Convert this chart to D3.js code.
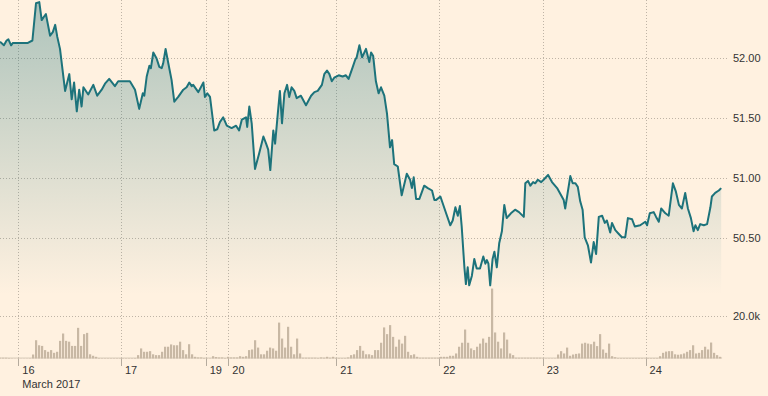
<!DOCTYPE html>
<html>
<head>
<meta charset="utf-8">
<script src="https://cdn.jsdelivr.net/npm/d3@7"></script>
<style>
  body { margin: 0; background: #fff1e0; }
  svg { display: block; font-family: "Liberation Sans", Arial, sans-serif; }
</style>
</head>
<body>
<svg id="chart" width="768" height="396"></svg>
<script>
// trading slots along the x axis (non-trading time is squeezed out)
var dayTicks = [6.1, 40.33, 68.55, 76.1, 112.1, 146.4, 180.9, 215.2];
var dayLabels = ["16", "17", "19", "20", "21", "22", "23", "24"];
var monthLabel = "March 2017";

var priceTicks = [52.0, 51.5, 51.0, 50.5];
var volumeTicks = [20];

var priceTimes = [0,1.3,2.2,2.8,3.7,4.3,5.6,6.7,8.3,9.3,10.8,12,13.1,13.9,14.7,15.3,16.7,17.6,18.4,19.1,
  20,21.7,23.1,23.9,24.7,25.6,26.4,27.2,27.8,29.4,31.1,32.4,33.9,35,36.4,38.3,39.4,41.7,43.3,45,
  46.4,47.6,48.1,48.9,49.8,50.3,51.1,52.2,53.1,53.9,54.4,55.2,56.1,57.2,58.1,59.4,61.1,62.2,63.1,63.9,
  64.4,66.1,67.8,68.3,69.1,70,71.4,72.4,73.3,74.4,75.6,77.2,78.7,79.7,80.6,82,82.4,83.1,83.9,85,
  86.4,87.8,88.7,89.4,90.1,91.1,91.7,92.6,93.3,94,94.8,95.7,96.4,97.2,98.1,98.9,100.3,102,103.7,104.8,
  105.9,107.3,108.1,109,109.8,110.6,111.4,112.9,114.2,115.3,116.2,117.6,118.4,118.9,119.8,120.7,122,123.1,123.7,124.4,
  125.3,126.2,127,128.1,129,130,130.7,131.4,132.6,133.9,135.6,136.7,137.3,137.9,138.7,139.8,141.4,142.6,144,144.8,
  145.3,146.8,148.7,150.1,150.9,151.8,152.6,153.3,153.9,154.8,155.3,155.9,156.4,157.3,158.1,158.9,160,161.1,161.8,162.3,
  162.8,163.4,164.2,164.8,165.6,166.4,167.3,168.1,168.9,170.3,171.7,173,174.6,175.1,176,176.8,177.7,178.4,179.3,180.4,
  181.2,182.7,184,185.7,186.8,187.9,188.4,190.1,190.9,191.8,192.6,193.4,194.2,194.9,196,197,197.9,198.7,199.6,200.7,
  201.6,202.3,203.4,204,205.1,206.2,207.3,208.4,209.3,210.7,211.6,213.4,215.1,215.7,216.6,217.9,218.7,219.6,220.4,221.8,
  222.9,224.3,225.3,226.3,227.3,228.4,229.3,230.3,231.2,231.8,232.6,233.4,234.6,235.7,236.8,237.3,238.4,239.6,240.4];

var prices = [52.14,52.11,52.15,52.16,52.11,52.13,52.13,52.13,52.13,52.13,52.15,52.46,52.47,52.32,52.35,52.37,52.19,52.22,52.28,52.18,
  52.08,51.73,51.87,51.66,51.80,51.56,51.74,51.60,51.76,51.70,51.78,51.69,51.74,51.79,51.83,51.77,51.81,51.81,51.81,51.74,
  51.58,51.71,51.69,51.85,51.94,51.92,52.05,52.00,51.93,51.92,51.96,52.08,51.96,51.82,51.64,51.68,51.74,51.76,51.80,51.77,
  51.78,51.72,51.80,51.68,51.71,51.68,51.40,51.41,51.47,51.51,51.44,51.42,51.44,51.40,51.49,51.51,51.43,51.60,51.46,51.08,
  51.21,51.35,51.29,51.24,51.07,51.40,51.29,51.54,51.73,51.46,51.71,51.78,51.68,51.76,51.73,51.67,51.69,51.61,51.69,51.72,
  51.73,51.78,51.87,51.90,51.87,51.81,51.84,51.86,51.85,51.86,51.83,51.93,51.99,52.01,52.11,52.01,52.08,51.97,52.05,52.02,
  51.81,51.71,51.76,51.69,51.54,51.26,51.32,51.12,51.10,50.86,51.04,50.99,50.92,51.01,50.83,50.83,50.94,50.92,50.90,50.82,
  50.82,50.85,50.71,50.61,50.65,50.76,50.69,50.77,50.60,50.26,50.12,50.26,50.11,50.19,50.33,50.25,50.25,50.35,50.29,50.32,
  50.29,50.11,50.33,50.39,50.26,50.46,50.56,50.78,50.67,50.71,50.74,50.72,50.68,50.96,50.98,50.94,50.97,50.96,50.99,50.97,
  50.99,51.03,50.97,50.92,50.87,50.82,50.75,51.02,50.96,50.96,50.93,50.81,50.74,50.51,50.44,50.30,50.47,50.37,50.68,50.69,
  50.63,50.65,50.55,50.63,50.57,50.54,50.51,50.51,50.67,50.66,50.60,50.61,50.64,50.61,50.71,50.72,50.68,50.64,50.75,50.71,
  50.69,50.96,50.89,50.78,50.75,50.88,50.75,50.67,50.56,50.61,50.57,50.62,50.61,50.62,50.76,50.85,50.88,50.90,50.92];

// volume in thousands, one bar per slot starting at slot 0
var volumes = [0.35,0.35,0.35,0.25,0.15,0.1,0.1,0.1,0.1,0.1,
  0.15,1.9,8.7,6.3,6.0,4.0,3.2,4.0,2.7,3.2,
  8.4,11.9,8.4,8.0,6.0,6.0,14.6,6.0,11.6,12.2,
  2.0,1.3,0.8,0.25,0.2,0.2,0.2,0.2,0.2,0.2,
  0.2,0.2,0.2,0.2,0.2,0.25,1.6,4.8,3.2,3.2,
  3.5,2.0,1.6,1.6,3.2,5.6,5.6,6.7,6.3,6.3,
  8.0,4.0,2.0,6.8,2.0,0.8,0.5,0.5,0.25,0.15,
  0.15,1.1,0.7,0.5,0.5,0.25,0.8,0.5,0.5,0.5,
  1.1,0.8,1.1,4.0,4.3,8.7,5.2,2.0,2.0,3.7,
  5.2,4.8,3.7,17.1,9.5,5.2,15.1,5.6,2.0,9.5,
  2.4,0.35,0.35,0.35,0.35,0.35,0.25,0.5,0.35,0.8,
  0.35,0.8,0.25,0.25,0.25,0.25,0.5,1.6,2.0,4.0,
  6.0,3.7,2.0,2.0,1.6,4.0,4.0,7.5,14.8,11.6,
  15.9,10.3,5.6,9.0,7.1,10.8,3.2,1.6,2.0,0.8,
  0.35,0.35,0.35,0.35,0.35,0.35,0.35,0.8,0.8,0.8,
  1.3,1.3,2.4,5.6,7.5,13.8,7.5,4.8,4.0,5.6,
  7.1,9.5,7.5,10.3,33.3,12.4,8.0,4.8,12.4,9.0,
  2.4,1.6,0.35,0.35,0.35,0.35,0.35,0.35,0.35,0.35,
  0.35,0.15,0.15,0.15,0.15,0.15,1.9,3.5,2.4,5.2,
  1.3,1.9,2.2,2.4,7.1,7.5,7.1,6.8,8.0,5.9,
  11.6,4.3,2.7,7.1,1.1,0.6,0.25,0.25,0.25,0.25,
  0.25,0.25,0.25,0.25,0.25,0.15,0.25,0.25,0.25,0.25,
  1.1,2.7,3.3,3.5,3.5,2.0,1.8,2.0,2.4,3.2,
  4.0,6.3,2.4,2.7,4.0,5.6,4.3,7.6,2.7,1.6,
  0.8];

var svg = d3.select("#chart");

var x = d3.scaleLinear().domain([0, 243]).range([0, 729]);
var yPrice = d3.scaleLinear().domain([50.5, 52]).range([238.5, 58.5]);
var yVol = d3.scaleLinear().domain([0, 20]).range([358.5, 316.5]);

var priceData = priceTimes.map(function(t, i){ return {t: t, p: prices[i]}; });

// gradient under the price line
var grad = svg.append("defs").append("linearGradient")
  .attr("id", "fade")
  .attr("gradientUnits", "userSpaceOnUse")
  .attr("x1", 0).attr("y1", 0).attr("x2", 0).attr("y2", 295);
grad.append("stop").attr("offset", "0%").attr("stop-color", "#1d737b").attr("stop-opacity", 0.36);
grad.append("stop").attr("offset", "100%").attr("stop-color", "#1d737b").attr("stop-opacity", 0);

// horizontal grid
var hLines = priceTicks.map(yPrice).concat(volumeTicks.map(yVol));
svg.append("g").selectAll("line").data(hLines).enter().append("line")
  .attr("x1", 0).attr("x2", 729)
  .attr("y1", function(d){ return d; }).attr("y2", function(d){ return d; })
  .attr("stroke", "#bfb4a6").attr("stroke-dasharray", "1,2");

// vertical grid + day ticks
var vg = svg.append("g");
vg.selectAll("line.grid").data(dayTicks).enter().append("line")
  .attr("class", "grid")
  .attr("x1", function(d){ return Math.round(x(d)) + 0.5; })
  .attr("x2", function(d){ return Math.round(x(d)) + 0.5; })
  .attr("y1", 0).attr("y2", 358)
  .attr("stroke", "#bfb4a6").attr("stroke-dasharray", "1,2");
vg.selectAll("line.tick").data(dayTicks).enter().append("line")
  .attr("class", "tick")
  .attr("x1", function(d){ return Math.round(x(d)) + 0.5; })
  .attr("x2", function(d){ return Math.round(x(d)) + 0.5; })
  .attr("y1", 358).attr("y2", 366)
  .attr("stroke", "#b5ab9e");

// area + line
var area = d3.area()
  .x(function(d){ return x(d.t); })
  .y0(yPrice(50.0))
  .y1(function(d){ return yPrice(d.p); });
svg.append("path").datum(priceData)
  .attr("d", area)
  .attr("fill", "url(#fade)");

var line = d3.line()
  .x(function(d){ return x(d.t); })
  .y(function(d){ return yPrice(d.p); });
svg.append("path").datum(priceData)
  .attr("d", line)
  .attr("fill", "none")
  .attr("stroke", "#1d737b")
  .attr("stroke-width", 2)
  .attr("stroke-linejoin", "round");

// volume bars
svg.append("line")
  .attr("x1", 0).attr("x2", x(240.7))
  .attr("y1", yVol(0) - 0.5).attr("y2", yVol(0) - 0.5)
  .attr("stroke", "#d9ccbb");
svg.append("g").selectAll("rect").data(volumes).enter().append("rect")
  .attr("x", function(d, i){ return x(i) - 1; })
  .attr("width", 2.2)
  .attr("y", function(d){ return yVol(d); })
  .attr("height", function(d){ return yVol(0) - yVol(d); })
  .attr("fill", "#c8b8a4");

// right-hand labels
svg.append("g").selectAll("text").data(priceTicks).enter().append("text")
  .attr("x", 733).attr("y", function(d){ return yPrice(d); })
  .attr("dy", "0.35em")
  .attr("font-size", 11).attr("fill", "#333")
  .text(function(d){ return d3.format(".2f")(d); });
svg.append("g").selectAll("text").data(volumeTicks).enter().append("text")
  .attr("x", 733).attr("y", function(d){ return yVol(d); })
  .attr("dy", "0.35em")
  .attr("font-size", 11).attr("fill", "#333")
  .text(function(d){ return d3.format(".1f")(d) + "k"; });

// day labels
svg.append("g").selectAll("text").data(dayTicks).enter().append("text")
  .attr("x", function(d){ return x(d) + 4; })
  .attr("y", 374)
  .attr("font-size", 11).attr("fill", "#333")
  .text(function(d, i){ return dayLabels[i]; });
svg.append("text")
  .attr("x", x(dayTicks[0]) + 4).attr("y", 388)
  .attr("font-size", 11).attr("fill", "#333")
  .text(monthLabel);
</script>
</body>
</html>
